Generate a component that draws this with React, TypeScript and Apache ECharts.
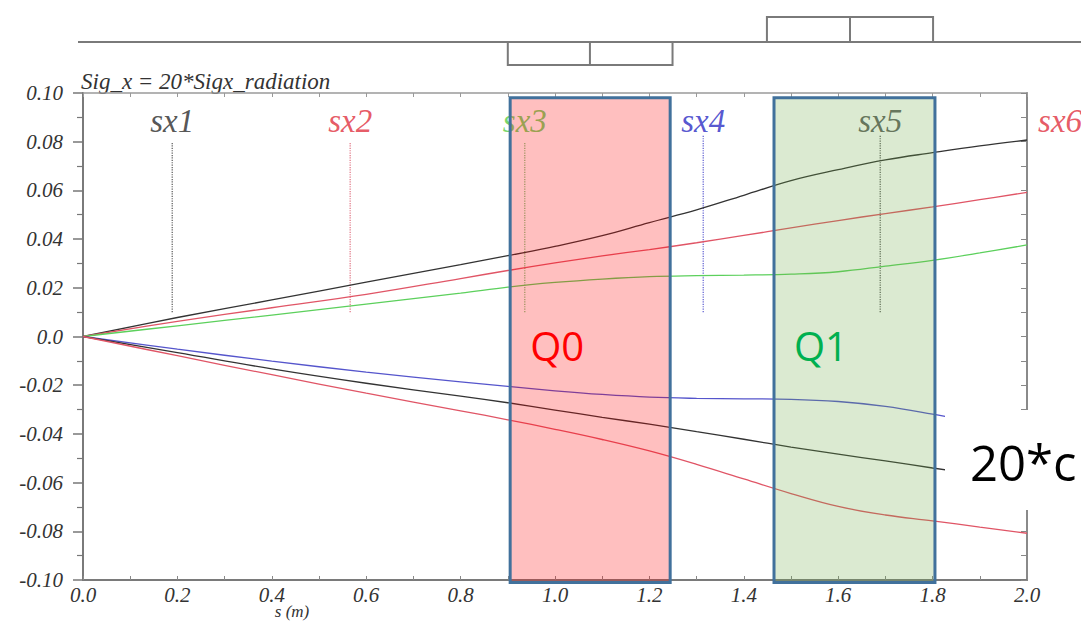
import React, { useEffect, useRef } from "react";
import * as echarts from "echarts";

// ---- data ----
const sGrid = [0, 0.2, 0.4, 0.6, 0.8, 0.9, 1.0, 1.1, 1.2, 1.3, 1.4, 1.5, 1.6, 1.7, 1.8, 1.9, 2.0];

const blackUpper = [0, 0.0078, 0.015, 0.0223, 0.0295, 0.0332, 0.037, 0.0414, 0.0468, 0.052, 0.058, 0.064, 0.0685, 0.0725, 0.0755, 0.0783, 0.0807];
const redUpper = [0, 0.0062, 0.0118, 0.0173, 0.0238, 0.0271, 0.0302, 0.0331, 0.0357, 0.0385, 0.0415, 0.0446, 0.0476, 0.0505, 0.0532, 0.0562, 0.0592];
const greenUpper = [0, 0.0044, 0.0088, 0.0133, 0.0178, 0.0203, 0.0222, 0.0236, 0.0246, 0.025, 0.0252, 0.0256, 0.0266, 0.0289, 0.0313, 0.0343, 0.0376];
const blueLower = [0, -0.0052, -0.0101, -0.0146, -0.0186, -0.0205, -0.0223, -0.0238, -0.0249, -0.0254, -0.0256, -0.0258, -0.0267, -0.0287, -0.0319, -0.0355, -0.039];
const blackLower = [0, -0.0066, -0.0133, -0.0192, -0.0245, -0.0272, -0.0302, -0.0332, -0.036, -0.0391, -0.0422, -0.0454, -0.0483, -0.0511, -0.054, -0.0568, -0.0595];
const redLower = [0, -0.0079, -0.0157, -0.0233, -0.0305, -0.0342, -0.0381, -0.0423, -0.047, -0.0525, -0.0585, -0.0645, -0.0698, -0.0733, -0.0757, -0.0783, -0.0808];

const sxNames = ["sx1", "sx2", "sx3", "sx4", "sx5", "sx6"];
const sxPos = [0.189, 0.566, 0.936, 1.314, 1.689, 2.07];
const sxColors = ["#2a2a2a", "#e0303e", "#55cc44", "#2b2bc4", "#3a3a3a", "#e0303e"];
const sxLineColors = ["#555555", "#e07080", "#77c277", "#5a5ad0", "#555555"];
const sxLineTop = [0.08, 0.08, 0.08, 0.083, 0.083];
const sxLineBottom = [0.01, 0.01, 0.01, 0.01, 0.01];
const sxLabelY = 0.0883;

const quadNames = ["Q0", "Q1"];
const quadStart = [0.905, 1.464];
const quadEnd = [1.244, 1.805];
const quadFill = ["rgba(255,0,0,0.25)", "rgba(112,173,71,0.25)"];
const quadTextColor = ["#ff0000", "#00b050"];
const quadYRange = [-0.101, 0.098];

const latticeStart = [0.9, 1.449];
const latticeMid = [1.074, 1.625];
const latticeEnd = [1.249, 1.801];
const latticeSide = [-0.92, 1];

const xTickLabels = ["0.0", "0.2", "0.4", "0.6", "0.8", "1.0", "1.2", "1.4", "1.6", "1.8", "2.0"];
const yTickLabels = ["-0.10", "-0.08", "-0.06", "-0.04", "-0.02", "0.0", "0.02", "0.04", "0.06", "0.08", "0.10"];

const SERIF = "'Liberation Serif', 'DejaVu Serif', serif";
const SANS = "'Open Sans', 'Noto Sans', sans-serif";

export default function App() {
  const ref = useRef<HTMLDivElement>(null);

  useEffect(() => {
    if (!ref.current) return;
    const chart = echarts.init(ref.current, null, { renderer: "svg" });

    const curve = (arr: number[], color: string) => ({
      type: "line",
      xAxisIndex: 0,
      yAxisIndex: 0,
      data: sGrid.map((s, i) => [s, arr[i]]),
      smooth: 0.4,
      symbol: "none",
      lineStyle: { color, width: 1.3 },
      z: 2,
      silent: true,
    });

    const sxLines = sxLineTop.map((top, i) => ({
      type: "line",
      xAxisIndex: 0,
      yAxisIndex: 0,
      data: [
        [sxPos[i], sxLineBottom[i]],
        [sxPos[i], top],
      ],
      symbol: "none",
      lineStyle: { color: sxLineColors[i], width: 1.2, type: "dotted" },
      z: 1,
      silent: true,
    }));

    const sxLabels = {
      type: "scatter",
      xAxisIndex: 0,
      yAxisIndex: 0,
      clip: false,
      symbolSize: 1,
      itemStyle: { color: "transparent" },
      z: 3,
      silent: true,
      data: sxNames.map((n, i) => ({
        value: [sxPos[i], sxLabelY],
        name: n,
        label: {
          show: true,
          position: "inside",
          formatter: n,
          color: sxColors[i],
          fontFamily: SERIF,
          fontStyle: "italic",
          fontSize: 33,
        },
      })),
    };

    const quads = {
      type: "custom",
      xAxisIndex: 0,
      yAxisIndex: 0,
      clip: false,
      z: 5,
      silent: true,
      data: quadNames.map((n, i) => [quadStart[i], quadEnd[i], quadYRange[0], quadYRange[1], i]),
      encode: { x: [0, 1], y: [2, 3] },
      renderItem: (params: any, api: any) => {
        const i = api.value(4);
        const p0 = api.coord([api.value(0), api.value(3)]);
        const p1 = api.coord([api.value(1), api.value(2)]);
        return {
          type: "group",
          children: [
            {
              type: "rect",
              shape: { x: p0[0], y: p0[1], width: p1[0] - p0[0], height: p1[1] - p0[1] },
              style: { fill: quadFill[i], stroke: "#41719C", lineWidth: 3 },
            },
            {
              type: "text",
              x: p0[0] + 20,
              y: (p0[1] + p1[1]) / 2 + 5,
              style: {
                text: quadNames[i],
                fill: quadTextColor[i],
                font: `40px ${SANS}`,
                verticalAlign: "middle",
                align: "left",
              },
            },
          ],
        };
      },
    };

    const lattice = {
      type: "custom",
      xAxisIndex: 2,
      yAxisIndex: 2,
      clip: false,
      z: 3,
      silent: true,
      data: latticeStart.map((s, i) => [s, latticeMid[i], latticeEnd[i], latticeSide[i]]),
      encode: { x: [0, 1, 2], y: 3 },
      renderItem: (params: any, api: any) => {
        const a = api.coord([api.value(0), 0]);
        const m = api.coord([api.value(1), api.value(3)]);
        const b = api.coord([api.value(2), api.value(3)]);
        const m0 = api.coord([api.value(1), 0]);
        const b0 = api.coord([api.value(2), 0]);
        const a1 = api.coord([api.value(0), api.value(3)]);
        const st = { stroke: "#7a7a7a", lineWidth: 2, fill: "none" };
        return {
          type: "group",
          children: [
            { type: "polyline", shape: { points: [a, a1, b, b0] }, style: st },
            { type: "line", shape: { x1: m0[0], y1: m0[1], x2: m[0], y2: m[1] }, style: st },
          ],
        };
      },
    };

    const option: any = {
      animation: false,
      grid: [
        { left: 83, right: 54, top: 93, bottom: 47 },
        { left: 83, right: 54, top: 17, height: 50 },
      ],
      xAxis: [
        {
          gridIndex: 0,
          type: "value",
          min: 0,
          max: 2,
          interval: 0.2,
          position: "bottom",
          axisLine: { show: true, onZero: false, lineStyle: { color: "#7a7a7a", width: 2 } },
          axisTick: { show: true, inside: true, length: 4, lineStyle: { color: "#888" } },
          minorTick: { show: true, splitNumber: 2, length: 4, lineStyle: { color: "#888" } },
          splitLine: { show: false },
          axisLabel: {
            formatter: (v: number) => xTickLabels[Math.round(v / 0.2)] ?? "",
            fontFamily: SERIF,
            fontStyle: "italic",
            fontSize: 21,
            color: "#333",
            margin: 4,
          },
        },
        {
          gridIndex: 0,
          type: "value",
          min: 0,
          max: 2,
          interval: 0.1,
          position: "top",
          axisLine: { show: true, onZero: false, lineStyle: { color: "#9a9a9a", width: 1.5 } },
          axisTick: { show: true, inside: true, length: 4, lineStyle: { color: "#999" } },
          axisLabel: { show: false },
          splitLine: { show: false },
        },
        { gridIndex: 1, type: "value", min: 0, max: 2, show: false },
      ],
      yAxis: [
        {
          gridIndex: 0,
          type: "value",
          min: -0.1,
          max: 0.1,
          interval: 0.02,
          axisLine: { show: true, onZero: false, lineStyle: { color: "#7a7a7a", width: 2 } },
          axisTick: { show: true, length: 10, lineStyle: { color: "#777", width: 1.5 } },
          minorTick: { show: true, splitNumber: 2, length: 6, lineStyle: { color: "#777", width: 1.2 } },
          splitLine: { show: false },
          axisLabel: {
            formatter: (v: number) => yTickLabels[Math.round((v + 0.1) / 0.02)] ?? "",
            fontFamily: SERIF,
            fontStyle: "italic",
            fontSize: 21,
            color: "#333",
            margin: 20,
          },
        },
        {
          gridIndex: 0,
          type: "value",
          position: "right",
          min: -0.1,
          max: 0.1,
          interval: 0.01,
          axisLine: { show: true, onZero: false, lineStyle: { color: "#8a8a8a", width: 2 } },
          axisTick: { show: true, inside: true, length: 6, lineStyle: { color: "#888" } },
          axisLabel: { show: false },
          splitLine: { show: false },
        },
        { gridIndex: 1, type: "value", min: -1, max: 1, show: false },
      ],
      series: [
        curve(blackUpper, "#333333"),
        curve(redUpper, "#e05566"),
        curve(greenUpper, "#5cd05c"),
        curve(blueLower, "#5555cc"),
        curve(blackLower, "#333333"),
        curve(redLower, "#e05566"),
        ...sxLines,
        sxLabels,
        quads,
        lattice,
      ],
      graphic: [
        {
          type: "line",
          shape: { x1: 78, y1: 42, x2: 1081, y2: 42 },
          style: { stroke: "#7a7a7a", lineWidth: 2 },
          z: 1,
        },
        {
          type: "text",
          x: 81,
          y: 70,
          style: {
            text: "Sig_x = 20*Sigx_radiation",
            font: `italic 23px ${SERIF}`,
            fill: "#333",
            verticalAlign: "top",
          },
        },
        {
          type: "text",
          x: 292,
          y: 611,
          style: {
            text: "s (m)",
            font: `italic 17px ${SERIF}`,
            fill: "#333",
            align: "center",
            verticalAlign: "middle",
          },
        },
        {
          type: "rect",
          shape: { x: 945, y: 410, width: 140, height: 100 },
          style: { fill: "#ffffff" },
          z: 100,
        },
        {
          type: "text",
          x: 970,
          y: 462,
          style: {
            text: "20*c",
            font: `49px ${SANS}`,
            fill: "#000",
            verticalAlign: "middle",
          },
          z: 101,
        },
      ],
    };

    chart.setOption(option);
    return () => chart.dispose();
  }, []);

  return (
    <div
      ref={ref}
      style={{ position: "fixed", left: 0, top: 0, width: 1081, height: 627, background: "#fff" }}
    />
  );
}
